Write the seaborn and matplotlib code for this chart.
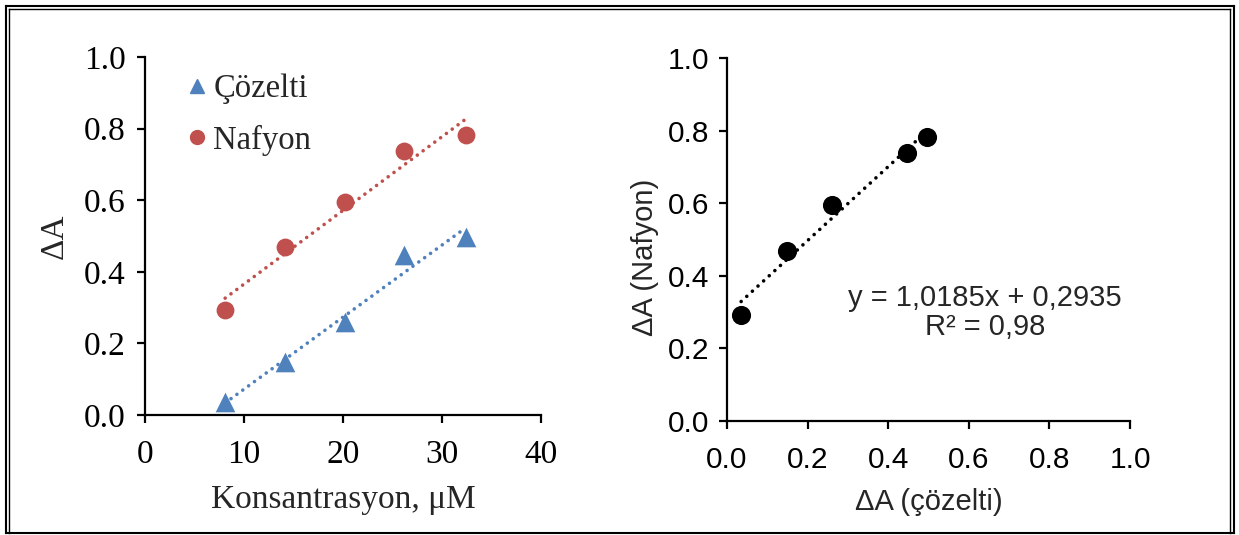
import numpy as np
import pandas as pd
import matplotlib
matplotlib.use("Agg")
import matplotlib.pyplot as plt
from matplotlib.lines import Line2D
from matplotlib.ticker import FormatStrFormatter
import seaborn as sns

# Absorbance change at each concentration
konsantrasyon = [8.1, 14.1, 20.2, 26.2, 32.4]          # µM
dA_cozelti = [0.035, 0.148, 0.260, 0.447, 0.497]
dA_nafyon = [0.293, 0.468, 0.595, 0.739, 0.783]

# Linear relation between the two sets (trendline label values)
egim = 1.0185
kesisim = 0.2935
r_kare = 0.98

mavi = "#4F81BD"
kirmizi = "#C0504D"

sns.set_style("white")
plt.rcParams["axes.edgecolor"] = "black"
plt.rcParams["xtick.color"] = "black"
plt.rcParams["ytick.color"] = "black"

serif = "Liberation Serif"
sans = "Liberation Sans"

fig = plt.figure(figsize=(12.39, 5.35), dpi=100)
ax1 = fig.add_axes([0.117, 0.2243, 0.3196, 0.669])
ax2 = fig.add_axes([0.5868, 0.2131, 0.3253, 0.6785])

df = pd.DataFrame({"k": konsantrasyon, "c": dA_cozelti, "n": dA_nafyon})

# ---- left panel: ΔA vs concentration ----
dot = dict(linestyle=(0, (0.01, 2.0)), linewidth=2.6, dash_capstyle="round")
sns.regplot(data=df, x="k", y="c", ax=ax1, scatter=False, ci=None, truncate=True,
            line_kws=dict(color=mavi, **dot))
sns.regplot(data=df, x="k", y="n", ax=ax1, scatter=False, ci=None, truncate=True,
            line_kws=dict(color=kirmizi, **dot))
sns.scatterplot(data=df, x="k", y="c", ax=ax1, marker="^", s=200, color=mavi,
                edgecolor=mavi, linewidth=0, label="Çözelti", zorder=3)
sns.scatterplot(data=df, x="k", y="n", ax=ax1, marker="o", s=165, color=kirmizi,
                edgecolor=kirmizi, linewidth=0, label="Nafyon", zorder=3)

ax1.set_xlim(0, 40)
ax1.set_ylim(0, 1.0)
ax1.set_xticks(np.arange(0, 41, 10))
ax1.set_yticks(np.arange(0, 1.01, 0.2))
ax1.yaxis.set_major_formatter(FormatStrFormatter("%.1f"))
ax1.set_xlabel("Konsantrasyon, μM", fontfamily=serif, fontsize=24, labelpad=10)
ax1.set_ylabel("ΔA", fontfamily=serif, fontsize=24, labelpad=10)
for lab in ax1.get_xticklabels() + ax1.get_yticklabels():
    lab.set_fontfamily(serif)
    lab.set_fontsize(24)

handles = [
    Line2D([], [], marker="^", linestyle="none", color=mavi, markersize=10),
    Line2D([], [], marker="o", linestyle="none", color=kirmizi, markersize=10),
]
ax1.legend(handles, ["Çözelti", "Nafyon"], loc="upper left",
           bbox_to_anchor=(-0.005, 1.035), frameon=False,
           prop=dict(family=serif, size=23.5), handletextpad=-0.25,
           labelspacing=0.62, handlelength=1.5)

# ---- right panel: Nafyon vs solution ----
x_fit = np.array([min(dA_cozelti), max(dA_cozelti)])
sns.lineplot(x=x_fit, y=egim * x_fit + kesisim, ax=ax2, color="black",
             linestyle=(0, (0.01, 2.1)), linewidth=2.6, dash_capstyle="round")
sns.scatterplot(x=dA_cozelti, y=dA_nafyon, ax=ax2, marker="o", s=190,
                color="black", edgecolor="black", linewidth=0, zorder=3)

ax2.set_xlim(0, 1.0)
ax2.set_ylim(0, 1.0)
ax2.set_xticks(np.arange(0, 1.01, 0.2))
ax2.set_yticks(np.arange(0, 1.01, 0.2))
ax2.xaxis.set_major_formatter(FormatStrFormatter("%.1f"))
ax2.yaxis.set_major_formatter(FormatStrFormatter("%.1f"))
ax2.set_xlabel("ΔA (çözelti)", fontfamily=sans, fontsize=21, labelpad=10)
ax2.set_ylabel("ΔA (Nafyon)", fontfamily=sans, fontsize=21)
ax2.yaxis.set_label_coords(-0.17, 0.45)
for lab in ax2.get_xticklabels() + ax2.get_yticklabels():
    lab.set_fontfamily(sans)
    lab.set_fontsize(21.5)

esitlik = f"y = {egim:.4f}x + {kesisim:.4f}".replace(".", ",")
ax2.text(0.64, 0.30, esitlik + "\n" + f"R² = {r_kare:.2f}".replace(".", ","),
         transform=ax2.transAxes, ha="center", va="center",
         fontfamily=sans, fontsize=21, linespacing=1.05)

for ax in (ax1, ax2):
    for side in ("top", "right"):
        ax.spines[side].set_visible(False)
    for side in ("left", "bottom"):
        ax.spines[side].set_linewidth(1.6)
        ax.spines[side].set_color("black")
    ax.tick_params(axis="both", which="major", direction="out", length=6,
                   width=1.6, left=True, bottom=True)
ax1.tick_params(axis="x", pad=12)
ax1.tick_params(axis="y", pad=8)
ax2.tick_params(axis="x", pad=12)
ax2.tick_params(axis="y", pad=7)

# double-line frame around the figure
W, H = 1239, 535
def frame_line(x0, y0, x1, y1, lw):
    fig.add_artist(Line2D([x0 / W, x1 / W], [1 - y0 / H, 1 - y1 / H],
                          transform=fig.transFigure, color="black",
                          linewidth=lw, solid_capstyle="projecting"))

outer = 1.5
frame_line(6, 5.5, 1233.5, 5.5, outer)
frame_line(6, 5.5, 6, 533, outer)
frame_line(1233.5, 5.5, 1233.5, 533, outer)
frame_line(6, 533, 1233.5, 533, outer)
inner = 1.0
frame_line(9, 8.5, 1230, 8.5, inner)
frame_line(9, 8.5, 9, 533, inner)
frame_line(1230, 8.5, 1230, 533, inner)

fig.savefig("out.png", dpi=100)
